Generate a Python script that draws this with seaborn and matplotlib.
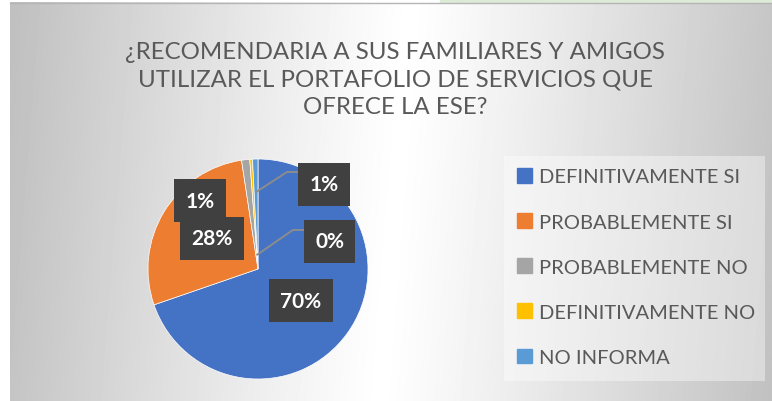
import numpy as np
import matplotlib
matplotlib.use("Agg")
import matplotlib.pyplot as plt
import seaborn as sns
from matplotlib.patches import Rectangle

categorias = ["DEFINITIVAMENTE SI", "PROBABLEMENTE SI", "PROBABLEMENTE NO",
              "DEFINITIVAMENTE NO", "NO INFORMA"]
respuestas = [175, 70, 3, 1, 2]
colores = ["#4472C4", "#ED7D31", "#A5A5A5", "#FFC000", "#5B9BD5"]
titulo = "¿RECOMENDARIA A SUS FAMILIARES Y AMIGOS\nUTILIZAR EL PORTAFOLIO DE SERVICIOS QUE\nOFRECE LA ESE?"

sns.set_theme(style="white")
plt.rcParams["font.family"] = ["Lato", "DejaVu Sans"]

W, H = 772, 402
fig = plt.figure(figsize=(W / 100, H / 100), dpi=100)
fig.patch.set_facecolor("white")

# fondo con degradado horizontal (claro en el centro, gris en los bordes)
bg = fig.add_axes([0, 0, 1, 1])
yy, xx = np.mgrid[0:399, 0:762]
d = np.abs(xx + 10 - 395 + 0.08 * (yy - 200)) / 385
grad = np.clip(1.0 - 0.24 * d ** 1.1, 0.75, 1.0)
bg.imshow(grad, cmap="gray", vmin=0, vmax=1, extent=(10, W, H, 3),
          aspect="auto", zorder=1)
bg.add_patch(Rectangle((440, 0), W - 440, 3, color="#dcebd6", zorder=2))
bg.plot([10, W], [3.5, 3.5], color="#b5b5b5", lw=1, zorder=2)
# caja de la leyenda
bg.add_patch(Rectangle((504, 157), 261, 225, facecolor="white", alpha=0.4,
                       edgecolor="none", zorder=2))
bg.set_xlim(0, W)
bg.set_ylim(H, 0)
bg.axis("off")

fig.text(0.512, 0.801, titulo, ha="center", va="center", fontsize=17.3,
         color="#595959", linespacing=1.36)

# pastel
ax = fig.add_axes([(258 - 110) / W, (H - 380) / H, 220 / W, 220 / H])
wedges, _ = ax.pie(respuestas, colors=colores, startangle=90, counterclock=False,
                   radius=1, wedgeprops=dict(linewidth=0.5, edgecolor="white"))
ax.set_xlim(-1, 1)
ax.set_ylim(-1, 1)
ax.set_aspect("equal")
ax.axis("off")

total = sum(respuestas)
pct = [f"{round(v / total * 100):.0f}%" for v in respuestas]
pos_etiquetas = [(0.39, -0.29), (-0.42, 0.28), (-0.53, 0.62), (0.65, 0.25), (0.60, 0.77)]
caja = dict(boxstyle="square,pad=0.55", facecolor="#404040", edgecolor="none")
for i, (x, y) in enumerate(pos_etiquetas):
    ax.text(x, y, pct[i], ha="center", va="center", color="white", fontsize=15,
            fontweight="bold", bbox=caja, zorder=5)

# lineas guia para las porciones pequenas
guias = {4: (0.70, (0.364, 0.882), (0.264, 0.882)),
         3: (0.13, (0.436, 0.355), (0.318, 0.355))}
for i, (r, p0, p1) in guias.items():
    w = wedges[i]
    ang = np.deg2rad((w.theta1 + w.theta2) / 2)
    ax.plot([p0[0], p1[0], r * np.cos(ang)], [p0[1], p1[1], r * np.sin(ang)],
            color="#8c8c8c", lw=1.4, zorder=4, clip_on=False)

handles = [Rectangle((0, 0), 1, 1, color=c) for c in colores]
fig.legend(handles, categorias, loc="center left", bbox_to_anchor=(499 / W, (H - 268) / H),
           frameon=False, fontsize=14.5, labelcolor="#595959", handlelength=0.75,
           handleheight=0.75, handletextpad=0.35, labelspacing=1.38)

fig.savefig("out.png", dpi=100)
